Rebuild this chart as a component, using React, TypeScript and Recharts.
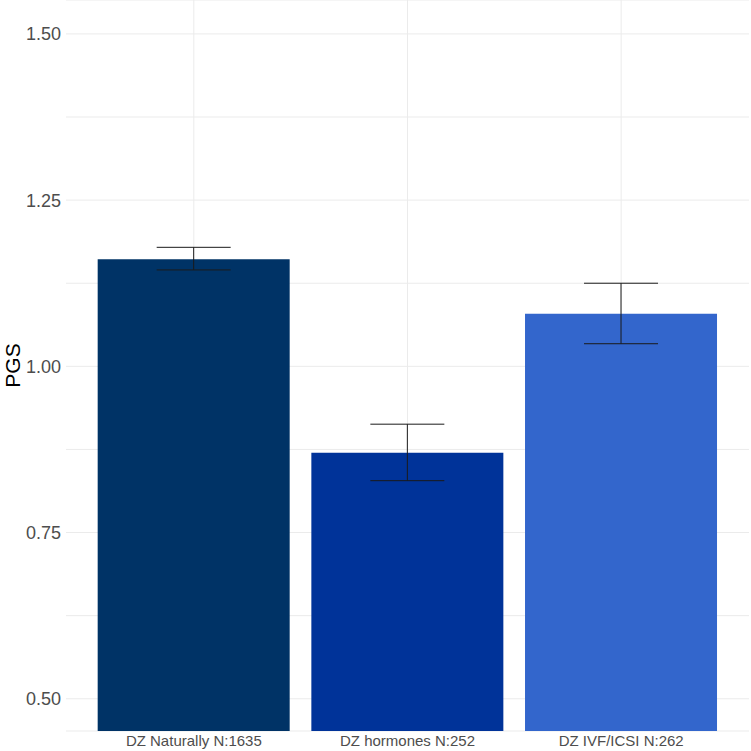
import { BarChart, Bar, XAxis, YAxis, CartesianGrid, ErrorBar, Cell } from 'recharts'

const groups = ['DZ Naturally N:1635', 'DZ hormones N:252', 'DZ IVF/ICSI N:262']
const means = [1.161, 0.87, 1.079]
const lower = [1.145, 0.828, 1.034]
const upper = [1.179, 0.913, 1.125]
const barColors = ['#003366', '#003399', '#3366CC']

const majorTicks = [0.5, 0.75, 1.0, 1.25, 1.5]
const minorTicks = [0.625, 0.875, 1.125, 1.375]
const yTicks = [...majorTicks, ...minorTicks].sort((a, b) => a - b)

const X_PAD = 21

const data = groups.map((g, i) => ({
  group: g,
  pgs: means[i],
  err: [means[i] - lower[i], upper[i] - means[i]],
}))

function PgsLabel({ viewBox }: { viewBox?: { x: number; y: number; width: number; height: number } }) {
  if (!viewBox) return null
  const cy = viewBox.y + viewBox.height / 2
  return (
    <text x={19.5} y={cy} transform={`rotate(-90 19.5 ${cy})`} textAnchor="middle" fontSize={21} fill="#000000">
      PGS
    </text>
  )
}

// vertical grid only at the category centres
const verticalLines = ({ offset }: { offset: { left: number; width: number } }) => {
  const band = (offset.width - 2 * X_PAD) / groups.length
  return groups.map((_, i) => offset.left + X_PAD + band * (i + 0.5))
}

export default function App() {
  return (
    <div style={{ position: 'absolute', left: 0, top: 0, background: '#ffffff' }}>
      <BarChart
        width={751}
        height={751}
        data={data}
        margin={{ top: 0, right: 2, bottom: 0, left: 0 }}
        barCategoryGap="5%"
        style={{ fontFamily: '"Liberation Sans", Arial, sans-serif' }}
      >
        <CartesianGrid stroke="#ebebeb" strokeWidth={1} verticalCoordinatesGenerator={verticalLines} />
        <XAxis
          dataKey="group"
          height={20}
          padding={{ left: X_PAD, right: X_PAD }}
          axisLine={false}
          tickLine={false}
          tickSize={0}
          tickMargin={4}
          tick={{ fontSize: 15, fill: '#4d4d4d' }}
          interval={0}
        />
        <YAxis
          type="number"
          width={66}
          domain={[0.4515, 1.551]}
          allowDataOverflow
          ticks={yTicks}
          tickFormatter={(v: number) => (majorTicks.includes(v) ? v.toFixed(2) : '')}
          axisLine={false}
          tickLine={false}
          tickSize={0}
          tickMargin={5}
          tick={{ fontSize: 18, fill: '#4d4d4d' }}
          label={<PgsLabel />}
        />
        <Bar dataKey="pgs" isAnimationActive={false}>
          {data.map((d, i) => (
            <Cell key={d.group} fill={barColors[i]} />
          ))}
          <ErrorBar dataKey="err" width={37} stroke="#1a1a1a" strokeWidth={1} isAnimationActive={false} />
        </Bar>
      </BarChart>
    </div>
  )
}
